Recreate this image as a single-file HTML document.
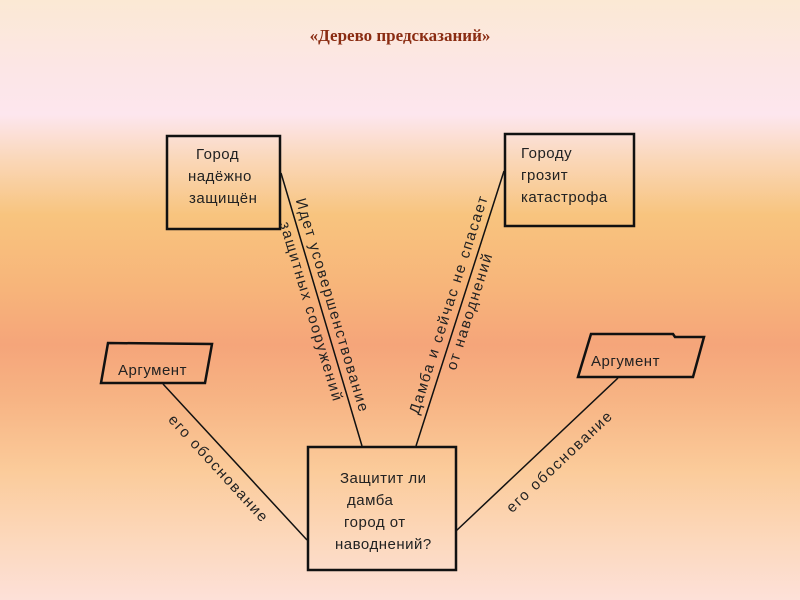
<!DOCTYPE html>
<html><head><meta charset="utf-8"><style>
html,body{margin:0;padding:0;}
body{width:800px;height:600px;overflow:hidden;background:linear-gradient(to bottom,#fbe9d4 0px,#fce6e6 70px,#fde6ee 115px,#fad7b8 160px,#f8c47e 215px,#f7b47a 290px,#f5a57a 345px,#f7b484 400px,#fbcb9a 470px,#fcd8bc 540px,#fde0d8 600px);}
svg{position:absolute;left:0;top:0;}
text{font-family:"Liberation Sans",sans-serif;font-size:14px;fill:#222;}
.b{font-size:15px;letter-spacing:0.5px;}
.r{font-size:15px;letter-spacing:1.6px;}
</style></head><body>
<svg width="800" height="600" viewBox="0 0 800 600">
<text x="400" y="41" text-anchor="middle" style="font-family:'Liberation Serif',serif;font-weight:bold;font-size:17px;fill:#8a2c12">«Дерево предсказаний»</text>
<g fill="none" stroke="#111" stroke-width="2.5">
<rect x="167" y="136" width="113" height="93"/>
<rect x="505" y="134" width="129" height="92"/>
<rect x="308" y="447" width="148" height="123"/>
<polygon points="108,343 212,344 205,383 101,383"/>
<polygon points="591,334 673,334 675,337 704,337 693,377 578,377"/>
</g>
<g stroke="#111" stroke-width="1.5">
<line x1="281" y1="173" x2="362" y2="446"/>
<line x1="504" y1="171" x2="416" y2="446"/>
<line x1="163" y1="384" x2="307" y2="540"/>
<line x1="618" y1="378" x2="456" y2="531"/>
</g>
<text class="b" x="196" y="159">Город</text>
<text class="b" x="188" y="181">надёжно</text>
<text class="b" x="189" y="203">защищён</text>
<text class="b" x="521" y="158">Городу</text>
<text class="b" x="521" y="180">грозит</text>
<text class="b" x="521" y="202">катастрофа</text>
<text class="b" x="340" y="483">Защитит ли</text>
<text class="b" x="347" y="505">дамба</text>
<text class="b" x="344" y="527">город от</text>
<text class="b" x="335" y="549">наводнений?</text>
<text class="b" x="118" y="375">Аргумент</text>
<text class="b" x="591" y="366">Аргумент</text>
<g transform="translate(321,309) rotate(73.3)"><text class="r" x="0" y="-7" text-anchor="middle">Идет усовершенствование</text><text class="r" x="0" y="15" text-anchor="middle">защитных сооружений</text></g>
<g transform="translate(460,308) rotate(-72.3)"><text class="r" x="0" y="-7" text-anchor="middle">Дамба и сейчас не спасает</text><text class="r" x="0" y="15" text-anchor="middle">от наводнений</text></g>
<g transform="translate(215,472) rotate(47.5)"><text class="r" x="0" y="0" text-anchor="middle">его обоснование</text></g>
<g transform="translate(563,465) rotate(-43.5)"><text class="r" x="0" y="0" text-anchor="middle">его обоснование</text></g>
</svg>
</body></html>
